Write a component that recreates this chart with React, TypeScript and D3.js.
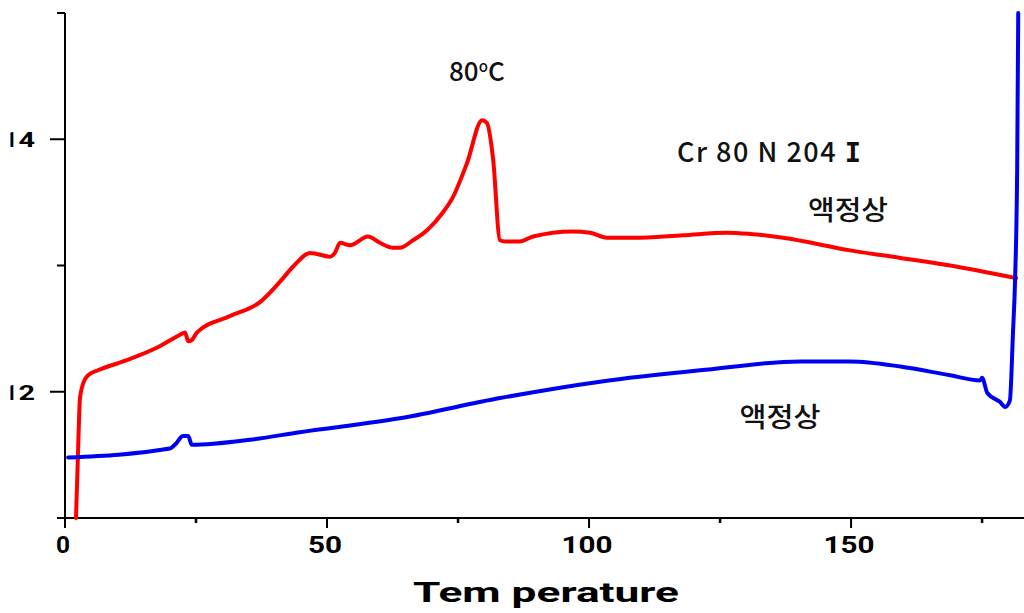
import * as d3 from 'd3'

// readings: [temperature, value]
const redCurve: [number, number][] = [
  [2.1, 1.0], [2.5, 1.54], [2.86, 1.95], [3.6, 2.08], [4.4, 2.13], [6.3, 2.17],
  [11.1, 2.24], [17.6, 2.35], [21.9, 2.45], [22.9, 2.47], [23.5, 2.4], [24.2, 2.41],
  [25.2, 2.47], [31.5, 2.6], [37.2, 2.71], [41.0, 2.87], [43.5, 2.99], [46.8, 3.1],
  [50.6, 3.07], [51.5, 3.1], [52.5, 3.18], [54.4, 3.16], [57.8, 3.23], [60.1, 3.18],
  [62.6, 3.14], [63.9, 3.14], [66.4, 3.2], [69.1, 3.28], [72.1, 3.42], [74.0, 3.54],
  [76.7, 3.81], [79.6, 4.15], [80.5, 4.13], [81.7, 3.84], [83.0, 3.2], [84.0, 3.19],
  [86.8, 3.19], [89.3, 3.23], [96.9, 3.27], [100.2, 3.26], [103.4, 3.22], [108.4, 3.22],
  [117.9, 3.24], [126.3, 3.26], [130.7, 3.25], [137.0, 3.22], [149.8, 3.12],
  [159.4, 3.06], [168.9, 3.0], [181.5, 2.9],
]

const blueCurve: [number, number][] = [
  [0.6, 1.48], [20.0, 1.55], [21.2, 1.59], [22.5, 1.65], [23.5, 1.65], [24.2, 1.58],
  [35.3, 1.62], [44.8, 1.68], [63.9, 1.79], [83.0, 1.95], [102.1, 2.08], [121.2, 2.17],
  [140.3, 2.24], [149.8, 2.24], [159.4, 2.2], [168.9, 2.13], [174.6, 2.09], [175.0, 2.11],
  [176.0, 1.99], [178.4, 1.92], [179.4, 1.88], [180.3, 1.93], [180.9, 2.47],
  [181.3, 2.89], [181.7, 3.78], [181.9, 5.0],
]

const xMajorTicks = [0, 50, 100, 150]
const xMinorTicks = [25, 75, 125, 175]
const yMajorTicks = [2, 4]
const yMinorTicks = [1, 3, 5]
const yTickLabels = ['12', '14']

const xTitle = 'Tem perature'
const phaseLabel = '액정상'
const transitionLabel = 'Cr 80 N 204 I'

const W = 1024
const H = 613

export default function App() {
  const x = d3.scaleLinear().domain([0, 183]).range([65, 1024])
  const y = d3.scaleLinear().domain([1, 5]).range([518, 13])

  const line = d3.line<[number, number]>()
    .x(d => x(d[0]))
    .y(d => y(d[1]))
    .curve(d3.curveMonotoneX)

  const tickFont = 'Roboto, "Liberation Sans", Arial, sans-serif'
  const annFont = '"Noto Sans CJK KR", "Noto Sans", sans-serif'

  const trHead = transitionLabel.slice(0, -1)
  const trTail = transitionLabel.slice(-1)

  return (
    <svg width={W} height={H} style={{ position: 'absolute', left: 0, top: 0, background: '#fff' }}>
      <defs>
        <clipPath id="plot">
          <rect x={65} y={0} width={W - 65} height={520} />
        </clipPath>
        <clipPath id="ylab">
          <rect x={10.5} y={0} width={40} height={H} />
        </clipPath>
      </defs>

      {/* axes */}
      <line x1={65} x2={65} y1={y(5)} y2={527} stroke="#000" strokeWidth={2} />
      <line x1={58} x2={W} y1={y(1)} y2={y(1)} stroke="#000" strokeWidth={2} />

      {yMajorTicks.map(t => (
        <line key={'ym' + t} x1={50} x2={65} y1={y(t)} y2={y(t)} stroke="#000" strokeWidth={2} />
      ))}
      {yMinorTicks.map(t => (
        <line key={'yn' + t} x1={57} x2={65} y1={y(t)} y2={y(t)} stroke="#000" strokeWidth={2} />
      ))}
      {yMajorTicks.map((t, i) => (
        <text key={'yl' + t} x={2} y={y(t) + 8} fontFamily={tickFont} fontWeight="bold"
          fontSize={20} textLength={33} lengthAdjust="spacingAndGlyphs" clipPath="url(#ylab)">
          {yTickLabels[i]}
        </text>
      ))}

      {xMajorTicks.map(t => (
        <line key={'xm' + t} x1={x(t)} x2={x(t)} y1={y(1)} y2={528} stroke="#000" strokeWidth={2} />
      ))}
      {xMinorTicks.map(t => (
        <line key={'xn' + t} x1={x(t)} x2={x(t)} y1={y(1)} y2={523} stroke="#000" strokeWidth={2.5} />
      ))}
      {xMajorTicks.map(t => {
        const s = String(t)
        return (
          <text key={'xl' + t} x={x(t) - 2} y={553} textAnchor="middle" fontFamily={tickFont}
            fontWeight="bold" fontSize={24} textLength={s.length === 1 ? 14 : s.length * 17}
            lengthAdjust="spacingAndGlyphs">
            {s}
          </text>
        )
      })}

      <text x={413} y={602} fontFamily={tickFont} fontWeight="bold"
        fontSize={28} textLength={266} lengthAdjust="spacingAndGlyphs">
        {xTitle}
      </text>

      {/* curves */}
      <g clipPath="url(#plot)" fill="none" strokeWidth={4} strokeLinejoin="round" strokeLinecap="round">
        <path d={line(redCurve) ?? ''} stroke="#ff0000" />
        <path d={line(blueCurve) ?? ''} stroke="#0000f0" />
      </g>

      {/* annotations */}
      <text x={449} y={81} fontFamily={annFont} fontSize={26} fontWeight={500} fill="#111">
        80<tspan fontSize={15} dy={-9}>o</tspan><tspan dy={9}>C</tspan>
      </text>
      <text x={677} y={162} fontFamily={annFont} fontSize={27} fontWeight={500} fill="#111"
        textLength={184} lengthAdjust="spacing">
        {trHead}<tspan fontFamily='"DejaVu Sans Mono", monospace' fontWeight="bold">{trTail}</tspan>
      </text>
      <text x={848} y={220} textAnchor="middle" fontFamily={annFont} fontSize={27}
        fontWeight={500} fill="#111" textLength={80} lengthAdjust="spacingAndGlyphs">
        {phaseLabel}
      </text>
      <text x={780} y={427} textAnchor="middle" fontFamily={annFont} fontSize={27}
        fontWeight={500} fill="#111" textLength={81} lengthAdjust="spacingAndGlyphs">
        {phaseLabel}
      </text>
    </svg>
  )
}
